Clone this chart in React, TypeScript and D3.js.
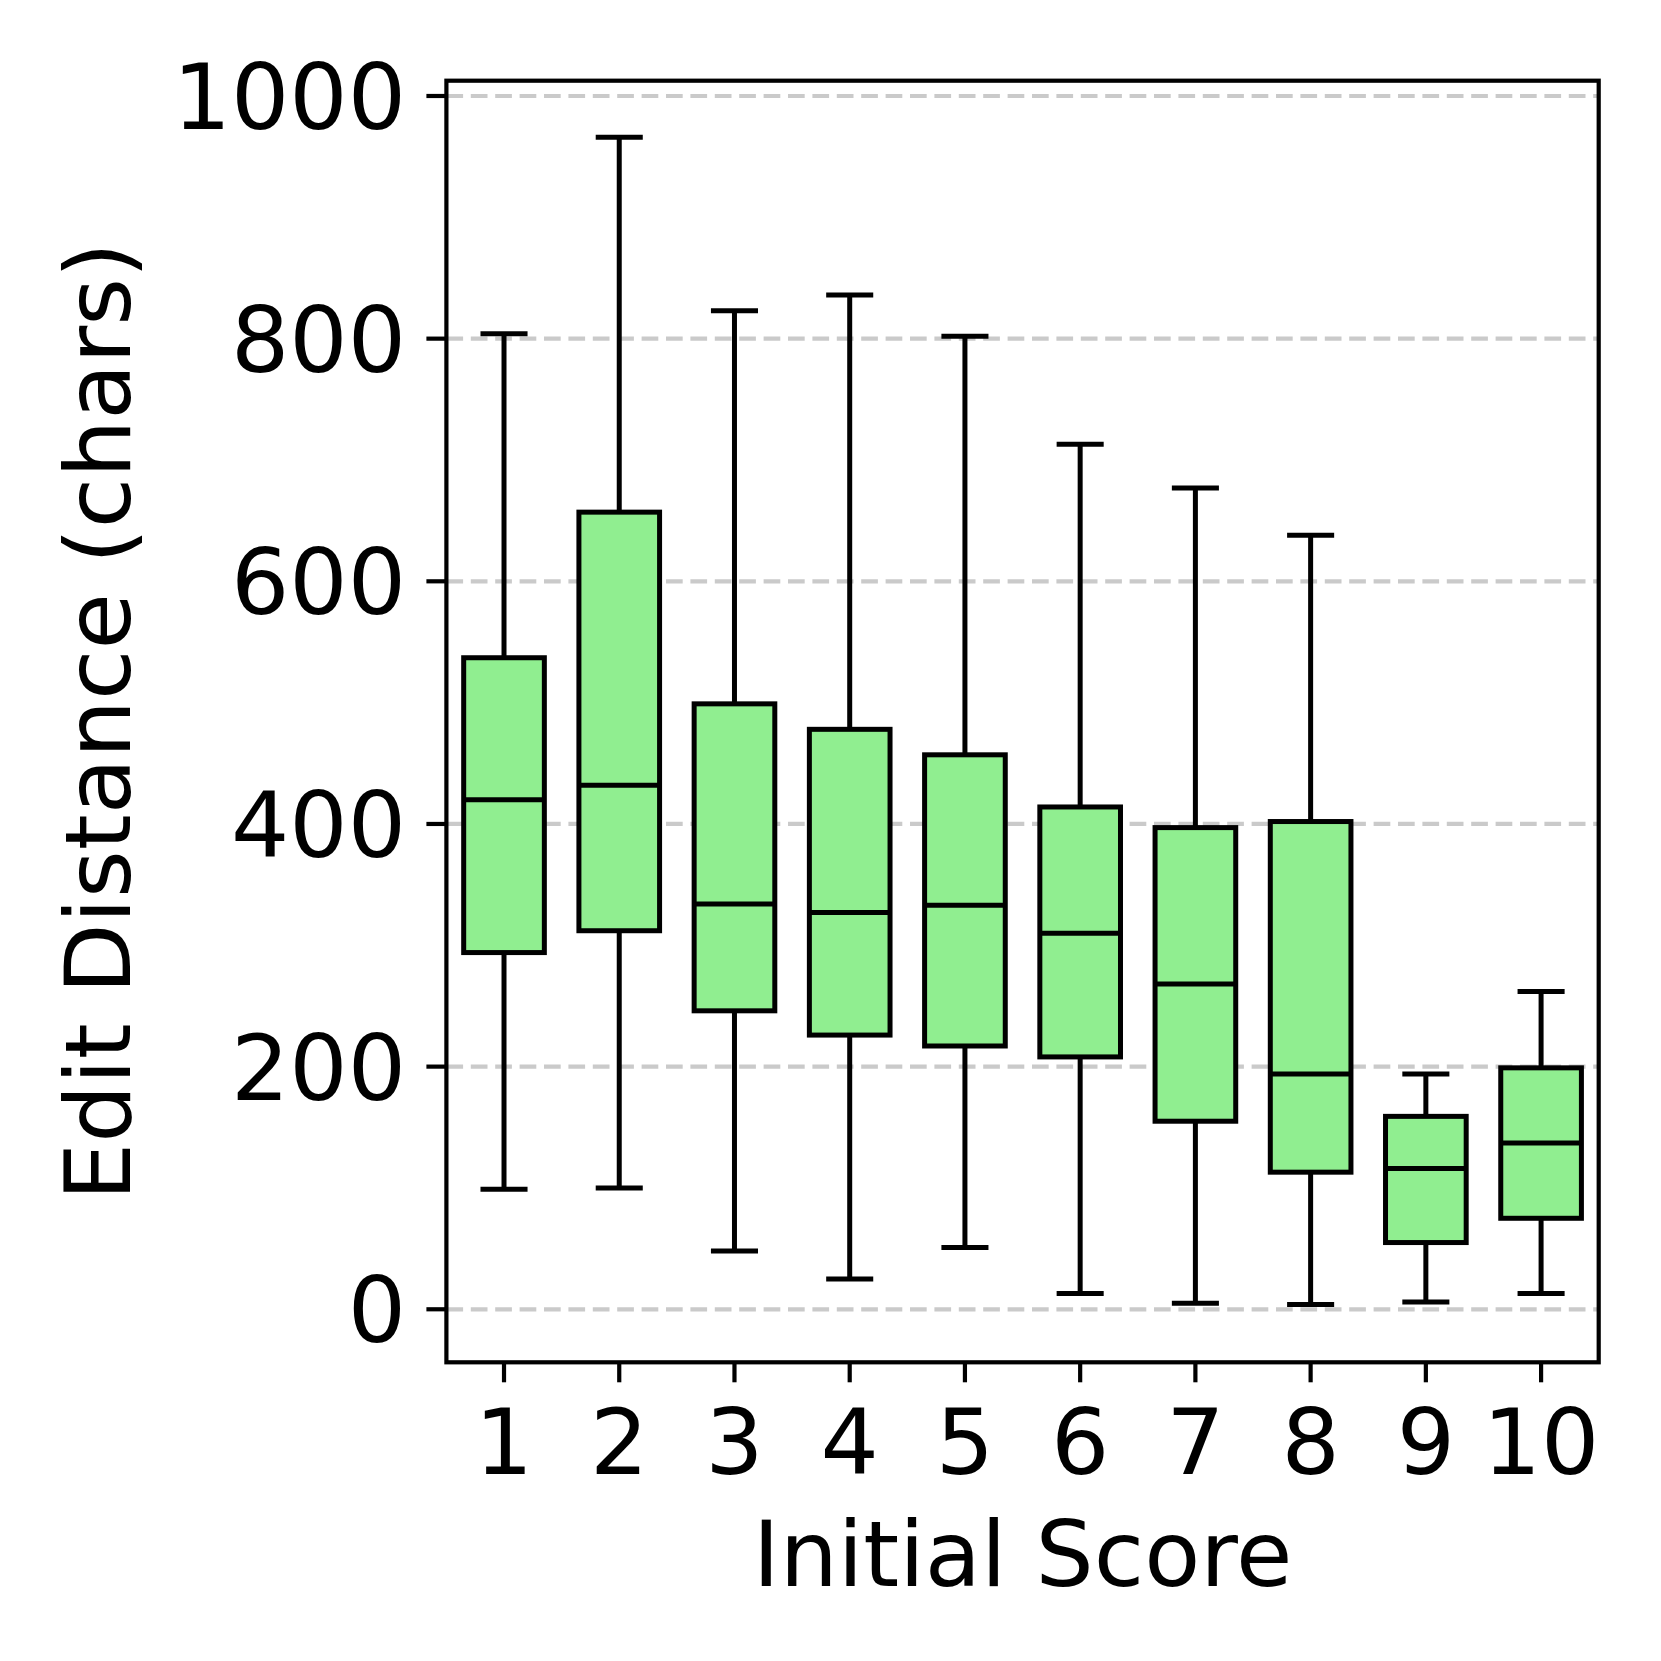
import React from "react";
import * as d3 from "d3";

const categories = ["1", "2", "3", "4", "5", "6", "7", "8", "9", "10"];
const whiskerLow = [99, 100, 48, 25, 51, 13, 5, 4, 6, 13];
const q1 = [294, 312, 246, 226, 217, 208, 155, 113, 55, 75];
const median = [420, 432, 334, 327, 333, 310, 268, 194, 116, 137];
const q3 = [537, 657, 499, 478, 457, 414, 397, 402, 159, 199];
const whiskerHigh = [804, 966, 823, 836, 802, 713, 677, 638, 194, 262];
const yTicks = [0, 200, 400, 600, 800, 1000];

const W = 1661;
const H = 1661;
const left = 446.4;
const right = 1598.7;
const top = 80.7;
const bottom = 1362.3;
const FONT = "'DejaVu Sans', sans-serif";
const FS = 91.7;

export default function App() {
  const x = d3.scaleLinear().domain([0.5, categories.length + 0.5]).range([left, right]);
  const y = d3.scaleLinear().domain([-43.7, 1012.6]).range([bottom, top]);
  const unit = x(2) - x(1);
  const boxW = 0.7 * unit;
  const capW = 0.365 * unit;
  const lw = 5;

  return (
    <svg
      width={W}
      height={H}
      style={{ position: "absolute", left: 0, top: 0, background: "#fff" }}
      xmlns="http://www.w3.org/2000/svg"
    >
      <rect x={0} y={0} width={W} height={H} fill="#fff" />
      {/* grid */}
      {yTicks.map((t) => (
        <line
          key={"g" + t}
          x1={left}
          x2={right}
          y1={y(t)}
          y2={y(t)}
          stroke="#cacaca"
          strokeWidth={4.2}
          strokeDasharray="16.7 7.7"
        />
      ))}
      {/* boxes */}
      {categories.map((c, i) => {
        const cx = x(i + 1);
        return (
          <g key={"b" + c}>
            <line x1={cx} x2={cx} y1={y(q3[i])} y2={y(whiskerHigh[i])} stroke="#000" strokeWidth={lw} />
            <line x1={cx} x2={cx} y1={y(q1[i])} y2={y(whiskerLow[i])} stroke="#000" strokeWidth={lw} />
            <line
              x1={cx - capW / 2}
              x2={cx + capW / 2}
              y1={y(whiskerHigh[i])}
              y2={y(whiskerHigh[i])}
              stroke="#000"
              strokeWidth={lw}
              strokeLinecap="square"
            />
            <line
              x1={cx - capW / 2}
              x2={cx + capW / 2}
              y1={y(whiskerLow[i])}
              y2={y(whiskerLow[i])}
              stroke="#000"
              strokeWidth={lw}
              strokeLinecap="square"
            />
            <rect
              x={cx - boxW / 2}
              y={y(q3[i])}
              width={boxW}
              height={y(q1[i]) - y(q3[i])}
              fill="#90ee90"
              stroke="#000"
              strokeWidth={lw}
            />
            <line
              x1={cx - boxW / 2}
              x2={cx + boxW / 2}
              y1={y(median[i])}
              y2={y(median[i])}
              stroke="#000"
              strokeWidth={lw}
            />
          </g>
        );
      })}
      {/* spines */}
      <rect
        x={left}
        y={top}
        width={right - left}
        height={bottom - top}
        fill="none"
        stroke="#000"
        strokeWidth={4.2}
      />
      {/* y ticks */}
      {yTicks.map((t) => (
        <g key={"yt" + t}>
          <line x1={left - 20} x2={left} y1={y(t)} y2={y(t)} stroke="#000" strokeWidth={4.2} />
          <text
            x={406}
            y={y(t)}
            dy="0.36em"
            textAnchor="end"
            fontFamily={FONT}
            fontSize={FS}
            fill="#000"
          >
            {t}
          </text>
        </g>
      ))}
      {/* x ticks */}
      {categories.map((c, i) => (
        <g key={"xt" + c}>
          <line x1={x(i + 1)} x2={x(i + 1)} y1={bottom} y2={bottom + 20} stroke="#000" strokeWidth={4.2} />
          <text x={x(i + 1)} y={1474} textAnchor="middle" fontFamily={FONT} fontSize={FS} fill="#000">
            {c}
          </text>
        </g>
      ))}
      {/* axis labels */}
      <text x={(left + right) / 2} y={1586} textAnchor="middle" fontFamily={FONT} fontSize={FS} fill="#000">
        Initial Score
      </text>
      <text
        transform={`translate(130, ${(top + bottom) / 2}) rotate(-90)`}
        textAnchor="middle"
        fontFamily={FONT}
        fontSize={FS}
        fill="#000"
      >
        Edit Distance (chars)
      </text>
    </svg>
  );
}
